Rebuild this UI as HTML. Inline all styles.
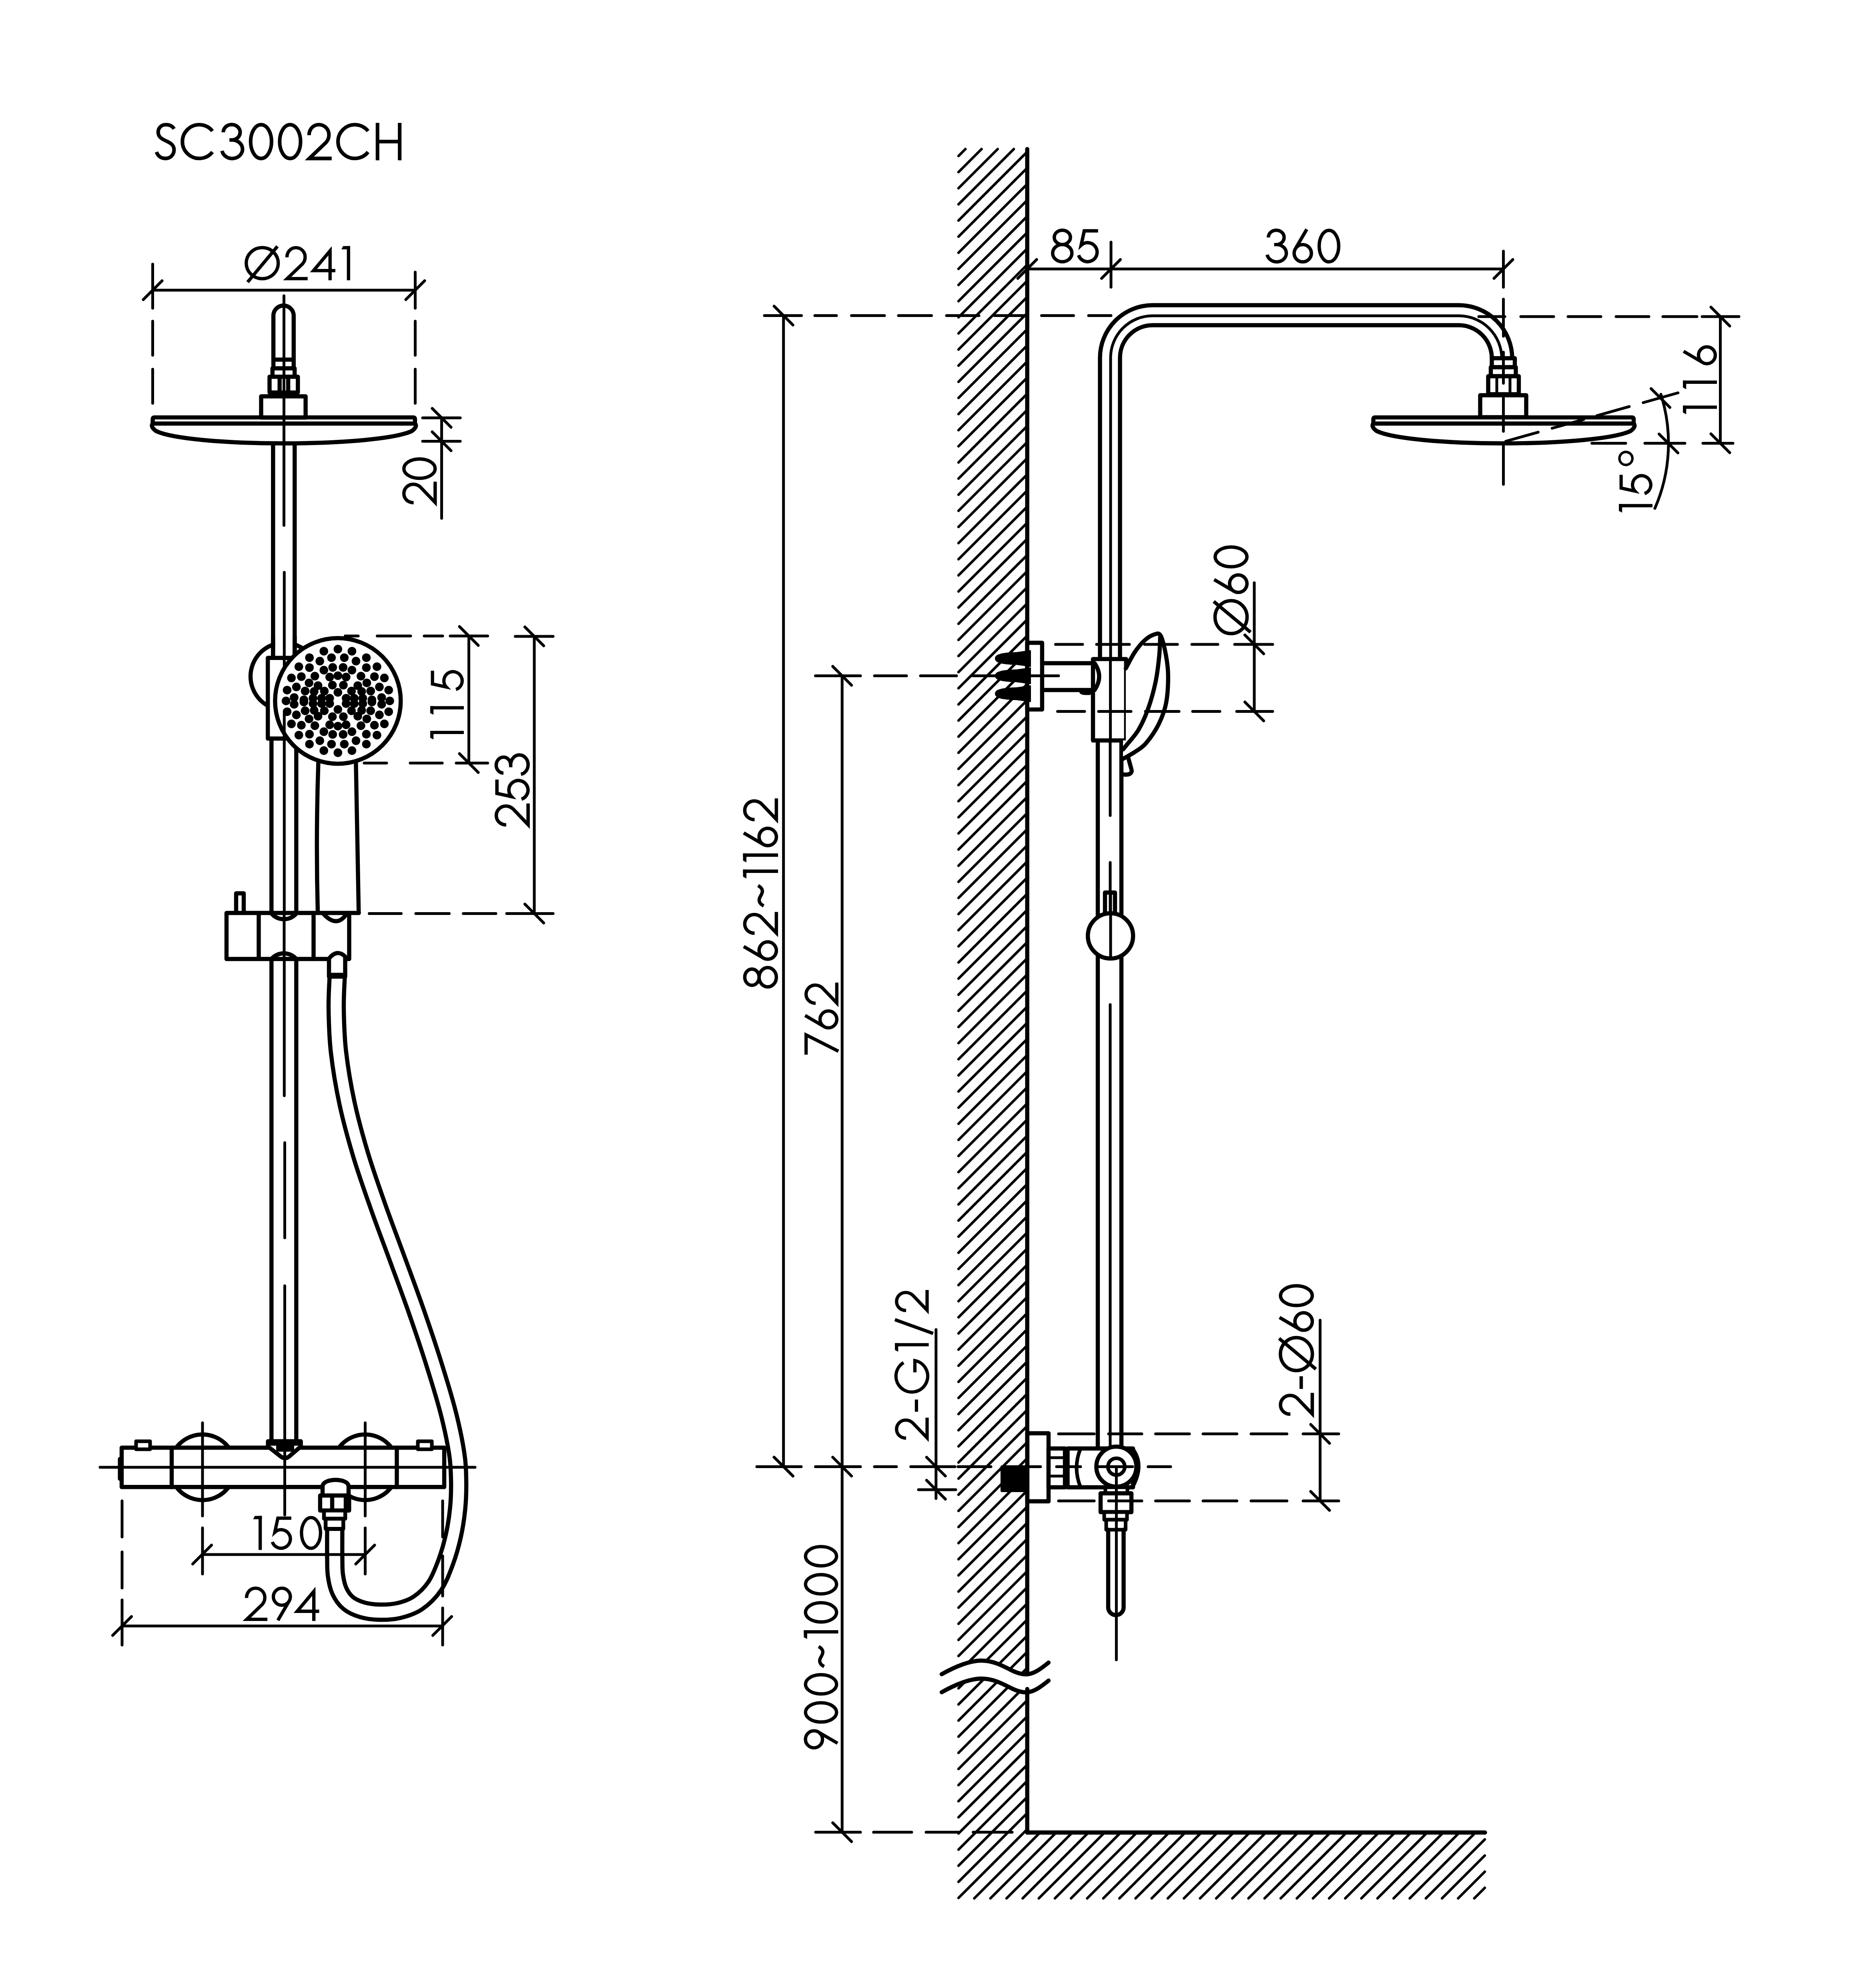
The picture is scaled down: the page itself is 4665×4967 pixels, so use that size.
<!DOCTYPE html>
<html><head><meta charset="utf-8"><style>
html,body{margin:0;padding:0;background:#fff;}
svg{display:block;}
.t path{fill:none;stroke:#000;stroke-linecap:butt;stroke-linejoin:miter;}
</style></head><body>
<svg width="4665" height="4967" viewBox="0 0 4665 4967" stroke="#000" fill="none" stroke-linecap="round" stroke-linejoin="round">
<rect x="0" y="0" width="4665" height="4967" fill="#fff" stroke="none"/>
<path d="M2395.0,389.7 L2412.2,372.5 M2395.0,430.0 L2452.5,372.5 M2395.0,470.3 L2492.8,372.5 M2395.0,510.6 L2533.1,372.5 M2395.0,550.9 L2566.0,379.9 M2395.0,591.2 L2566.0,420.2 M2395.0,631.5 L2566.0,460.5 M2395.0,671.8 L2566.0,500.8 M2395.0,712.1 L2566.0,541.1 M2395.0,752.4 L2566.0,581.4 M2395.0,792.7 L2566.0,621.7 M2395.0,833.0 L2566.0,662.0 M2395.0,873.3 L2566.0,702.3 M2395.0,913.6 L2566.0,742.6 M2395.0,953.9 L2566.0,782.9 M2395.0,994.2 L2566.0,823.2 M2395.0,1034.5 L2566.0,863.5 M2395.0,1074.8 L2566.0,903.8 M2395.0,1115.1 L2566.0,944.1 M2395.0,1155.4 L2566.0,984.4 M2395.0,1195.7 L2566.0,1024.7 M2395.0,1236.0 L2566.0,1065.0 M2395.0,1276.3 L2566.0,1105.3 M2395.0,1316.6 L2566.0,1145.6 M2395.0,1356.9 L2566.0,1185.9 M2395.0,1397.2 L2566.0,1226.2 M2395.0,1437.5 L2566.0,1266.5 M2395.0,1477.8 L2566.0,1306.8 M2395.0,1518.1 L2566.0,1347.1 M2395.0,1558.4 L2566.0,1387.4 M2395.0,1598.7 L2566.0,1427.7 M2395.0,1639.0 L2566.0,1468.0 M2395.0,1679.3 L2566.0,1508.3 M2395.0,1719.6 L2566.0,1548.6 M2395.0,1759.9 L2566.0,1588.9 M2395.0,1800.2 L2566.0,1629.2 M2395.0,1840.5 L2566.0,1669.5 M2395.0,1880.8 L2566.0,1709.8 M2395.0,1921.1 L2566.0,1750.1 M2395.0,1961.4 L2566.0,1790.4 M2395.0,2001.7 L2566.0,1830.7 M2395.0,2042.0 L2566.0,1871.0 M2395.0,2082.3 L2566.0,1911.3 M2395.0,2122.6 L2566.0,1951.6 M2395.0,2162.9 L2566.0,1991.9 M2395.0,2203.2 L2566.0,2032.2 M2395.0,2243.5 L2566.0,2072.5 M2395.0,2283.8 L2566.0,2112.8 M2395.0,2324.1 L2566.0,2153.1 M2395.0,2364.4 L2566.0,2193.4 M2395.0,2404.7 L2566.0,2233.7 M2395.0,2445.0 L2566.0,2274.0 M2395.0,2485.3 L2566.0,2314.3 M2395.0,2525.6 L2566.0,2354.6 M2395.0,2565.9 L2566.0,2394.9 M2395.0,2606.2 L2566.0,2435.2 M2395.0,2646.5 L2566.0,2475.5 M2395.0,2686.8 L2566.0,2515.8 M2395.0,2727.1 L2566.0,2556.1 M2395.0,2767.4 L2566.0,2596.4 M2395.0,2807.7 L2566.0,2636.7 M2395.0,2848.0 L2566.0,2677.0 M2395.0,2888.3 L2566.0,2717.3 M2395.0,2928.6 L2566.0,2757.6 M2395.0,2968.9 L2566.0,2797.9 M2395.0,3009.2 L2566.0,2838.2 M2395.0,3049.5 L2566.0,2878.5 M2395.0,3089.8 L2566.0,2918.8 M2395.0,3130.1 L2566.0,2959.1 M2395.0,3170.4 L2566.0,2999.4 M2395.0,3210.7 L2566.0,3039.7 M2395.0,3251.0 L2566.0,3080.0 M2395.0,3291.3 L2566.0,3120.3 M2395.0,3331.6 L2566.0,3160.6 M2395.0,3371.9 L2566.0,3200.9 M2395.0,3412.2 L2566.0,3241.2 M2395.0,3452.5 L2566.0,3281.5 M2395.0,3492.8 L2566.0,3321.8 M2395.0,3533.1 L2566.0,3362.1 M2395.0,3573.4 L2566.0,3402.4 M2395.0,3613.7 L2566.0,3442.7 M2395.0,3654.0 L2566.0,3483.0 M2395.0,3694.3 L2566.0,3523.3 M2395.0,3734.6 L2566.0,3563.6 M2395.0,3774.9 L2566.0,3603.9 M2395.0,3815.2 L2566.0,3644.2 M2395.0,3855.5 L2566.0,3684.5 M2395.0,3895.8 L2566.0,3724.8 M2395.0,3936.1 L2566.0,3765.1 M2395.0,3976.4 L2566.0,3805.4 M2395.0,4016.7 L2566.0,3845.7 M2395.0,4057.0 L2566.0,3886.0 M2395.0,4097.3 L2566.0,3926.3 M2395.0,4137.6 L2566.0,3966.6 M2395.0,4177.9 L2566.0,4006.9 M2395.0,4218.2 L2566.0,4047.2 M2395.0,4258.5 L2566.0,4087.5 M2395.0,4298.8 L2566.0,4127.8 M2395.0,4339.1 L2566.0,4168.1 M2395.0,4379.4 L2566.0,4208.4 M2395.0,4419.7 L2566.0,4248.7 M2395.0,4460.0 L2566.0,4289.0 M2395.0,4500.3 L2566.0,4329.3 M2395.0,4540.6 L2566.0,4369.6 M2395.0,4580.9 L2566.0,4409.9 M2395.0,4621.2 L2566.0,4450.2 M2395.0,4661.5 L2566.0,4490.5 M2395.0,4701.8 L2566.0,4530.8 M2395.0,4742.1 L2566.0,4571.1 M2434.4,4743.0 L2598.9,4578.5 M2474.7,4743.0 L2639.2,4578.5 M2515.0,4743.0 L2679.5,4578.5 M2555.3,4743.0 L2719.8,4578.5 M2595.6,4743.0 L2760.1,4578.5 M2635.9,4743.0 L2800.4,4578.5 M2676.2,4743.0 L2840.7,4578.5 M2716.5,4743.0 L2881.0,4578.5 M2756.8,4743.0 L2921.3,4578.5 M2797.1,4743.0 L2961.6,4578.5 M2837.4,4743.0 L3001.9,4578.5 M2877.7,4743.0 L3042.2,4578.5 M2918.0,4743.0 L3082.5,4578.5 M2958.3,4743.0 L3122.8,4578.5 M2998.6,4743.0 L3163.1,4578.5 M3038.9,4743.0 L3203.4,4578.5 M3079.2,4743.0 L3243.7,4578.5 M3119.5,4743.0 L3284.0,4578.5 M3159.8,4743.0 L3324.3,4578.5 M3200.1,4743.0 L3364.6,4578.5 M3240.4,4743.0 L3404.9,4578.5 M3280.7,4743.0 L3445.2,4578.5 M3321.0,4743.0 L3485.5,4578.5 M3361.3,4743.0 L3525.8,4578.5 M3401.6,4743.0 L3566.1,4578.5 M3441.9,4743.0 L3606.4,4578.5 M3482.2,4743.0 L3646.7,4578.5 M3522.5,4743.0 L3687.0,4578.5 M3562.8,4743.0 L3710.0,4595.8 M3603.1,4743.0 L3710.0,4636.1 M3643.4,4743.0 L3710.0,4676.4 M3683.7,4743.0 L3710.0,4716.7" stroke-width="6.4" fill="none" stroke-linecap="round"/>
<path d="M2353,4183 C2385,4165 2420,4150 2450,4149 C2480,4148 2505,4162 2527,4173 C2545,4182 2558,4184 2568,4183 C2585,4181 2600,4170 2620,4154 L2620,4199 C2600,4215 2585,4226 2568,4228 C2558,4229 2545,4227 2527,4218 C2505,4207 2480,4193 2450,4194 C2420,4195 2385,4210 2353,4228 Z" fill="#fff" stroke="none"/>
<line x1="2566.7" y1="372.5" x2="2566.7" y2="4182.0" stroke-width="10.4" stroke-linecap="round"/>
<line x1="2566.7" y1="4220.0" x2="2566.7" y2="4578.5" stroke-width="10.4" stroke-linecap="round"/>
<line x1="2566.7" y1="4578.5" x2="3710.5" y2="4578.5" stroke-width="10.4" stroke-linecap="round"/>
<path d="M2353,4183 C2385,4165 2420,4150 2450,4149 C2480,4148 2505,4162 2527,4173 C2545,4182 2558,4184 2568,4183 C2585,4181 2600,4170 2620,4154" stroke-width="10.4" fill="none" stroke-linecap="round"/>
<path d="M2353,4228 C2385,4210 2420,4195 2450,4194 C2480,4193 2505,4207 2527,4218 C2545,4227 2558,4229 2568,4228 C2585,4226 2600,4215 2620,4199" stroke-width="10.4" fill="none" stroke-linecap="round"/>
<path d="M842.5,2440.0 C842.1,2453.3 839.5,2488.7 840.0,2520.0 C840.5,2551.3 841.2,2588.7 845.7,2628.0 C850.2,2667.3 857.8,2713.2 867.0,2756.0 C876.2,2798.8 888.2,2842.2 901.0,2885.0 C913.8,2927.8 929.0,2970.3 944.0,3013.0 C959.0,3055.7 975.3,3098.2 991.0,3141.0 C1006.7,3183.8 1023.0,3227.2 1038.0,3270.0 C1053.0,3312.8 1067.5,3355.3 1081.0,3398.0 C1094.5,3440.7 1109.0,3487.3 1119.0,3526.0 C1129.0,3564.7 1136.5,3601.0 1141.0,3630.0 C1145.5,3659.0 1145.6,3676.8 1146.0,3700.0 C1146.4,3723.2 1145.7,3746.3 1143.5,3769.0 C1141.3,3791.7 1137.9,3813.8 1133.0,3836.0 C1128.1,3858.2 1121.8,3880.8 1114.0,3902.0 C1106.2,3923.2 1097.7,3945.8 1086.0,3963.0 C1074.3,3980.2 1059.0,3994.8 1044.0,4005.0 C1029.0,4015.2 1012.0,4020.2 996.0,4024.0 C980.0,4027.8 963.2,4028.3 948.0,4028.0 C932.8,4027.7 918.0,4025.8 905.0,4022.0 C892.0,4018.2 879.5,4012.8 870.0,4005.0 C860.5,3997.2 853.3,3986.7 848.0,3975.0 C842.7,3963.3 839.9,3949.2 838.0,3935.0 C836.1,3920.8 836.7,3908.3 836.4,3890.0 C836.1,3871.7 836.4,3835.8 836.4,3825.0" stroke-width="48.4" fill="none" />
<path d="M842.5,2440.0 C842.1,2453.3 839.5,2488.7 840.0,2520.0 C840.5,2551.3 841.2,2588.7 845.7,2628.0 C850.2,2667.3 857.8,2713.2 867.0,2756.0 C876.2,2798.8 888.2,2842.2 901.0,2885.0 C913.8,2927.8 929.0,2970.3 944.0,3013.0 C959.0,3055.7 975.3,3098.2 991.0,3141.0 C1006.7,3183.8 1023.0,3227.2 1038.0,3270.0 C1053.0,3312.8 1067.5,3355.3 1081.0,3398.0 C1094.5,3440.7 1109.0,3487.3 1119.0,3526.0 C1129.0,3564.7 1136.5,3601.0 1141.0,3630.0 C1145.5,3659.0 1145.6,3676.8 1146.0,3700.0 C1146.4,3723.2 1145.7,3746.3 1143.5,3769.0 C1141.3,3791.7 1137.9,3813.8 1133.0,3836.0 C1128.1,3858.2 1121.8,3880.8 1114.0,3902.0 C1106.2,3923.2 1097.7,3945.8 1086.0,3963.0 C1074.3,3980.2 1059.0,3994.8 1044.0,4005.0 C1029.0,4015.2 1012.0,4020.2 996.0,4024.0 C980.0,4027.8 963.2,4028.3 948.0,4028.0 C932.8,4027.7 918.0,4025.8 905.0,4022.0 C892.0,4018.2 879.5,4012.8 870.0,4005.0 C860.5,3997.2 853.3,3986.7 848.0,3975.0 C842.7,3963.3 839.9,3949.2 838.0,3935.0 C836.1,3920.8 836.7,3908.3 836.4,3890.0 C836.1,3871.7 836.4,3835.8 836.4,3825.0" stroke="#fff" stroke-width="27.6" fill="none" stroke-linecap="butt"/>
<line x1="682.3" y1="1105.0" x2="682.3" y2="1644.0" stroke-width="10.4" stroke-linecap="butt"/>
<line x1="736.3" y1="1105.0" x2="736.3" y2="1644.0" stroke-width="10.4" stroke-linecap="butt"/>
<line x1="678.3" y1="1845.0" x2="678.3" y2="2281.0" stroke-width="10.4" stroke-linecap="butt"/>
<line x1="740.3" y1="1845.0" x2="740.3" y2="2281.0" stroke-width="10.4" stroke-linecap="butt"/>
<line x1="678.3" y1="2396.0" x2="678.3" y2="3602.0" stroke-width="10.4" stroke-linecap="butt"/>
<line x1="740.3" y1="2396.0" x2="740.3" y2="3602.0" stroke-width="10.4" stroke-linecap="butt"/>
<path d="M683.1,917 V788.8 A25.35,25.35 0 0 1 733.8,788.8 V917" stroke-width="10.4" fill="none" />
<line x1="683.1" y1="898.5" x2="733.8" y2="898.5" stroke-width="10.4" stroke-linecap="butt"/>
<rect x="680.8" y="920.3" width="55.4" height="20.9" stroke-width="10.4" fill="#fff"/>
<rect x="673.5" y="941.2" width="70.8" height="39.4" stroke-width="10.4" fill="#fff"/>
<line x1="698.7" y1="941.2" x2="698.7" y2="980.6" stroke-width="10.4" stroke-linecap="butt"/>
<line x1="720.1" y1="941.2" x2="720.1" y2="980.6" stroke-width="10.4" stroke-linecap="butt"/>
<rect x="652.5" y="990.3" width="111.1" height="53.1" stroke-width="10.4" fill="#fff"/>
<path d="M381.6,1058.2 V1047 Q381.6,1042.9 386,1042.9 H1032.5 Q1036.9,1042.9 1036.9,1047 V1058.2" stroke-width="10.4" fill="none" />
<line x1="381.6" y1="1058.2" x2="1036.9" y2="1058.2" stroke-width="10.4" stroke-linecap="butt"/>
<path d="M381.6,1058.2 Q375,1066 390,1077 C430,1096 560,1107.7 709.5,1107.7 C859,1107.7 989,1096 1029,1077 Q1044,1066 1036.9,1058.2" stroke-width="10.4" fill="none" />
<line x1="709.5" y1="739.0" x2="709.5" y2="1312.5" stroke-width="7" stroke-linecap="round"/>
<circle cx="710" cy="1690" r="84" stroke-width="10.4" fill="none"/>
<rect x="687.5" y="1590" width="43.6" height="54" fill="#fff" stroke="none"/>
<line x1="682.3" y1="1590.0" x2="682.3" y2="1644.0" stroke-width="10.4" stroke-linecap="butt"/>
<line x1="736.3" y1="1590.0" x2="736.3" y2="1644.0" stroke-width="10.4" stroke-linecap="butt"/>
<rect x="669.2" y="1643.8" width="90" height="201.4" stroke-width="10.4" fill="#fff"/>
<path d="M795.4,1905 Q789,2092 794,2281" stroke-width="10.4" fill="none" />
<path d="M889.3,1905 Q893,2092 896.3,2281" stroke-width="10.4" fill="none" />
<line x1="710.3" y1="1430.0" x2="710.3" y2="1662.0" stroke-width="7" stroke-linecap="round"/>
<circle cx="844.3" cy="1751.2" r="157" stroke-width="10.4" fill="#fff"/>
<g fill="#000" stroke="none"><circle cx="773.2" cy="1859.2" r="10.8"/><circle cx="935.6" cy="1690.5" r="10.8"/><circle cx="894.0" cy="1789.4" r="10.8"/><circle cx="717.4" cy="1778.2" r="10.8"/><circle cx="794.6" cy="1713.0" r="10.8"/><circle cx="753.0" cy="1811.9" r="10.8"/><circle cx="915.4" cy="1668.0" r="10.8"/><circle cx="809.2" cy="1674.3" r="10.8"/><circle cx="810.3" cy="1775.9" r="10.8"/><circle cx="878.3" cy="1775.9" r="10.8"/><circle cx="828.3" cy="1859.2" r="10.8"/><circle cx="728.2" cy="1693.8" r="10.8"/><circle cx="858.0" cy="1790.6" r="10.8"/><circle cx="953.6" cy="1759.7" r="10.8"/><circle cx="906.4" cy="1757.9" r="10.8"/><circle cx="915.4" cy="1834.4" r="10.8"/><circle cx="823.8" cy="1691.6" r="10.8"/><circle cx="786.7" cy="1813.1" r="10.8"/><circle cx="901.9" cy="1689.3" r="10.8"/><circle cx="803.6" cy="1744.5" r="10.8"/><circle cx="773.2" cy="1668.0" r="10.8"/><circle cx="782.2" cy="1744.5" r="10.8"/><circle cx="879.4" cy="1627.0" r="10.8"/><circle cx="953.6" cy="1742.7" r="10.8"/><circle cx="941.9" cy="1836.7" r="10.8"/><circle cx="903.7" cy="1727.6" r="10.8"/><circle cx="916.5" cy="1796.2" r="10.8"/><circle cx="885.0" cy="1744.5" r="10.8"/><circle cx="830.6" cy="1711.8" r="10.8"/><circle cx="879.4" cy="1828.1" r="10.8"/><circle cx="823.8" cy="1757.9" r="10.8"/><circle cx="740.6" cy="1786.1" r="10.8"/><circle cx="810.3" cy="1726.5" r="10.8"/><circle cx="809.2" cy="1828.1" r="10.8"/><circle cx="971.2" cy="1724.2" r="10.8"/><circle cx="857.3" cy="1667.5" r="10.8"/><circle cx="960.4" cy="1693.8" r="10.8"/><circle cx="831.3" cy="1834.9" r="10.8"/><circle cx="915.4" cy="1643.2" r="10.8"/><circle cx="864.8" cy="1744.5" r="10.8"/><circle cx="935.6" cy="1811.9" r="10.8"/><circle cx="784.9" cy="1774.8" r="10.8"/><circle cx="746.7" cy="1836.7" r="10.8"/><circle cx="903.7" cy="1774.8" r="10.8"/><circle cx="717.4" cy="1724.2" r="10.8"/><circle cx="799.1" cy="1850.6" r="10.8"/><circle cx="864.8" cy="1810.8" r="10.8"/><circle cx="901.9" cy="1813.1" r="10.8"/><circle cx="772.1" cy="1796.2" r="10.8"/><circle cx="926.2" cy="1775.9" r="10.8"/><circle cx="929.3" cy="1748.5" r="10.8"/><circle cx="809.2" cy="1627.0" r="10.8"/><circle cx="794.6" cy="1789.4" r="10.8"/><circle cx="948.0" cy="1786.1" r="10.8"/><circle cx="860.3" cy="1859.2" r="10.8"/><circle cx="831.3" cy="1667.5" r="10.8"/><circle cx="878.3" cy="1726.5" r="10.8"/><circle cx="929.3" cy="1753.9" r="10.8"/><circle cx="759.3" cy="1748.5" r="10.8"/><circle cx="773.2" cy="1834.4" r="10.8"/><circle cx="844.3" cy="1880.6" r="10.8"/><circle cx="740.6" cy="1716.3" r="10.8"/><circle cx="799.1" cy="1651.8" r="10.8"/><circle cx="894.0" cy="1713.0" r="10.8"/><circle cx="879.4" cy="1875.4" r="10.8"/><circle cx="759.3" cy="1753.9" r="10.8"/><circle cx="916.5" cy="1706.2" r="10.8"/><circle cx="823.8" cy="1744.5" r="10.8"/><circle cx="857.3" cy="1834.9" r="10.8"/><circle cx="889.5" cy="1651.8" r="10.8"/><circle cx="830.6" cy="1790.6" r="10.8"/><circle cx="844.3" cy="1729.8" r="10.8"/><circle cx="926.2" cy="1726.5" r="10.8"/><circle cx="941.9" cy="1665.7" r="10.8"/><circle cx="762.4" cy="1775.9" r="10.8"/><circle cx="864.8" cy="1691.6" r="10.8"/><circle cx="753.0" cy="1690.5" r="10.8"/><circle cx="844.3" cy="1772.6" r="10.8"/><circle cx="773.2" cy="1643.2" r="10.8"/><circle cx="858.0" cy="1711.8" r="10.8"/><circle cx="864.8" cy="1757.9" r="10.8"/><circle cx="844.3" cy="1814.2" r="10.8"/><circle cx="906.4" cy="1744.5" r="10.8"/><circle cx="889.5" cy="1850.6" r="10.8"/><circle cx="728.2" cy="1808.6" r="10.8"/><circle cx="973.9" cy="1751.2" r="10.8"/><circle cx="879.4" cy="1674.3" r="10.8"/><circle cx="844.3" cy="1621.8" r="10.8"/><circle cx="828.3" cy="1643.2" r="10.8"/><circle cx="762.4" cy="1726.5" r="10.8"/><circle cx="714.7" cy="1751.2" r="10.8"/><circle cx="948.0" cy="1716.3" r="10.8"/><circle cx="803.6" cy="1757.9" r="10.8"/><circle cx="772.1" cy="1706.2" r="10.8"/><circle cx="844.3" cy="1688.2" r="10.8"/><circle cx="782.2" cy="1757.9" r="10.8"/><circle cx="971.2" cy="1778.2" r="10.8"/><circle cx="746.7" cy="1665.7" r="10.8"/><circle cx="809.2" cy="1875.4" r="10.8"/><circle cx="735.0" cy="1759.7" r="10.8"/><circle cx="885.0" cy="1757.9" r="10.8"/><circle cx="786.7" cy="1689.3" r="10.8"/><circle cx="915.4" cy="1859.2" r="10.8"/><circle cx="735.0" cy="1742.7" r="10.8"/><circle cx="784.9" cy="1727.6" r="10.8"/><circle cx="823.8" cy="1810.8" r="10.8"/><circle cx="960.4" cy="1808.6" r="10.8"/><circle cx="860.3" cy="1643.2" r="10.8"/></g>
<line x1="710.3" y1="1782.0" x2="710.3" y2="2737.5" stroke-width="7" stroke-linecap="round"/>
<rect x="566" y="2281" width="306.5" height="115" stroke-width="10.4" fill="#fff"/>
<line x1="872.5" y1="2281.0" x2="896.5" y2="2281.0" stroke-width="10.4" stroke-linecap="round"/>
<line x1="646.5" y1="2281.0" x2="646.5" y2="2396.0" stroke-width="10.4" stroke-linecap="round"/>
<line x1="783.5" y1="2281.0" x2="783.5" y2="2396.0" stroke-width="10.4" stroke-linecap="round"/>
<path d="M590,2281 V2232 H609 V2281" stroke-width="10.4" fill="none" />
<path d="M678.3,2282.5 A41.3,41.3 0 0 0 740.3,2282.5" stroke-width="10.4" fill="none" />
<path d="M678.3,2396 A41.3,41.3 0 0 1 740.3,2396" stroke-width="10.4" fill="none" />
<path d="M806,2281 Q842,2322 867.5,2281" stroke-width="10.4" fill="none" />
<line x1="710.0" y1="2281.0" x2="710.0" y2="2396.0" stroke-width="7" stroke-linecap="round"/>
<path d="M822,2440 V2395 Q842,2370 862.5,2390 V2440 Z" stroke-width="10.4" fill="#fff" />
<line x1="822.0" y1="2434.0" x2="862.5" y2="2434.0" stroke-width="7" stroke-linecap="round"/>
<circle cx="506" cy="3666" r="82" stroke-width="10.4" fill="none"/>
<circle cx="912.5" cy="3666" r="82" stroke-width="10.4" fill="none"/>
<rect x="304" y="3617" width="806" height="98.2" stroke-width="10.4" fill="#fff"/>
<line x1="429.0" y1="3617.0" x2="429.0" y2="3715.2" stroke-width="10.4" stroke-linecap="round"/>
<line x1="991.5" y1="3617.0" x2="991.5" y2="3715.2" stroke-width="10.4" stroke-linecap="round"/>
<rect x="340" y="3601" width="35" height="20" stroke-width="9" fill="#fff"/>
<rect x="1044" y="3601" width="35" height="20" stroke-width="9" fill="#fff"/>
<path d="M304,3645 H299 V3695 H304" stroke-width="9" fill="none" />
<path d="M669.6,3614 V3601 H751.6 V3614 L722.5,3639 Q712,3647 701.5,3639 Z" stroke-width="10.4" fill="#fff" />
<rect x="690" y="3606" width="45" height="21" rx="6" fill="#000" stroke="none"/>
<line x1="676.0" y1="3609.0" x2="745.0" y2="3609.0" stroke-width="6" stroke-linecap="round"/>
<line x1="711.5" y1="3212.5" x2="711.5" y2="3785.0" stroke-width="7" stroke-linecap="round"/>
<line x1="711.5" y1="2855.0" x2="711.5" y2="3092.5" stroke-width="7" stroke-linecap="round"/>
<path d="M806,3734 V3714 C806,3692 871,3692 871,3714 V3734" stroke-width="10.4" fill="#fff" />
<rect x="799.9" y="3736.5" width="72.4" height="37.5" stroke-width="10.4" fill="#fff"/>
<line x1="830.0" y1="3736.5" x2="830.0" y2="3774.0" stroke-width="10.4" stroke-linecap="round"/>
<line x1="864.0" y1="3736.5" x2="864.0" y2="3774.0" stroke-width="10.4" stroke-linecap="round"/>
<rect x="809.5" y="3774" width="53.2" height="20.4" stroke-width="9.5" fill="#fff"/>
<rect x="813.6" y="3794.4" width="44.2" height="25.4" stroke-width="9.5" fill="#fff"/>
<line x1="506.0" y1="3555.0" x2="506.0" y2="3787.5" stroke-width="7" stroke-linecap="round"/>
<line x1="506.0" y1="3817.5" x2="506.0" y2="3932.5" stroke-width="7" stroke-linecap="round"/>
<line x1="912.5" y1="3555.0" x2="912.5" y2="3787.5" stroke-width="7" stroke-linecap="round"/>
<line x1="912.5" y1="3817.5" x2="912.5" y2="3932.5" stroke-width="7" stroke-linecap="round"/>
<line x1="250.0" y1="3666.0" x2="1187.0" y2="3666.0" stroke-width="7" stroke-linecap="round"/>
<line x1="381.5" y1="725.0" x2="1037.5" y2="725.0" stroke-width="7" stroke-linecap="round"/>
<line x1="381.5" y1="660.0" x2="381.5" y2="770.0" stroke-width="7" stroke-linecap="round"/>
<line x1="381.5" y1="802.5" x2="381.5" y2="887.5" stroke-width="7" stroke-linecap="round"/>
<line x1="381.5" y1="922.5" x2="381.5" y2="1007.5" stroke-width="7" stroke-linecap="round"/>
<line x1="1037.5" y1="680.0" x2="1037.5" y2="770.0" stroke-width="7" stroke-linecap="round"/>
<line x1="1037.5" y1="802.5" x2="1037.5" y2="887.5" stroke-width="7" stroke-linecap="round"/>
<line x1="1037.5" y1="922.5" x2="1037.5" y2="1007.5" stroke-width="7" stroke-linecap="round"/>
<line x1="358.0" y1="748.5" x2="405.0" y2="701.5" stroke-width="7" stroke-linecap="round"/>
<line x1="1014.0" y1="748.5" x2="1061.0" y2="701.5" stroke-width="7" stroke-linecap="round"/>
<g class="t" transform="translate(611.00,700.20) scale(0.8540)" stroke-width="9.70"><path transform="translate(0.00,0)" d="M5.00,-50.00 A46.80,45.50 0 1 1 98.60,-50.00 A46.80,45.50 0 1 1 5.00,-50.00 Z M9,5.4 L96.3,-99.2"/><path transform="translate(118.28,0)" d="M5.8,-67 C5.8,-83.5 17.5,-95.15 32,-95.15 C47,-95.15 59,-83.5 59,-68 C59,-60 56.5,-53.5 51,-47.5 L6.5,-4.85 H66.4"/><path transform="translate(199.36,0)" d="M66.4,-28.2 H2.5 L50.9,-86 V0"/><path transform="translate(283.43,0)" d="M20.8,0 V-100"/><path transform="translate(283.43,0)" d="M5,-100 H25.65 V-90.3 H0 Z" style="fill:#000;stroke:none"/></g>
<line x1="1056.0" y1="1044.0" x2="1150.0" y2="1044.0" stroke-width="7" stroke-linecap="round"/>
<line x1="1056.0" y1="1102.5" x2="1150.0" y2="1102.5" stroke-width="7" stroke-linecap="round"/>
<line x1="1103.5" y1="1044.0" x2="1103.5" y2="1295.0" stroke-width="7" stroke-linecap="round"/>
<line x1="1080.0" y1="1020.5" x2="1127.0" y2="1067.5" stroke-width="7" stroke-linecap="round"/>
<line x1="1080.0" y1="1079.0" x2="1127.0" y2="1126.0" stroke-width="7" stroke-linecap="round"/>
<g class="t" transform="translate(1091.50,1261.00) rotate(-90) scale(0.8650)" stroke-width="9.70"><path transform="translate(0.00,0)" d="M5.8,-67 C5.8,-83.5 17.5,-95.15 32,-95.15 C47,-95.15 59,-83.5 59,-68 C59,-60 56.5,-53.5 51,-47.5 L6.5,-4.85 H66.4"/><path transform="translate(71.39,0)" d="M4.85,-50.00 A27.95,45.15 0 1 1 60.75,-50.00 A27.95,45.15 0 1 1 4.85,-50.00 Z"/></g>
<line x1="862.5" y1="1589.0" x2="895.0" y2="1589.0" stroke-width="7" stroke-linecap="round"/>
<line x1="942.5" y1="1589.0" x2="1026.0" y2="1589.0" stroke-width="7" stroke-linecap="round"/>
<line x1="1060.0" y1="1589.0" x2="1106.0" y2="1589.0" stroke-width="7" stroke-linecap="round"/>
<line x1="1125.0" y1="1589.0" x2="1218.5" y2="1589.0" stroke-width="7" stroke-linecap="round"/>
<line x1="910.0" y1="1906.5" x2="966.0" y2="1906.5" stroke-width="7" stroke-linecap="round"/>
<line x1="1025.0" y1="1906.5" x2="1105.0" y2="1906.5" stroke-width="7" stroke-linecap="round"/>
<line x1="1140.0" y1="1906.5" x2="1218.5" y2="1906.5" stroke-width="7" stroke-linecap="round"/>
<line x1="1171.5" y1="1589.0" x2="1171.5" y2="1906.5" stroke-width="7" stroke-linecap="round"/>
<line x1="1148.0" y1="1565.5" x2="1195.0" y2="1612.5" stroke-width="7" stroke-linecap="round"/>
<line x1="1148.0" y1="1883.0" x2="1195.0" y2="1930.0" stroke-width="7" stroke-linecap="round"/>
<g class="t" transform="translate(1159.00,1847.50) rotate(-90) scale(0.8400)" stroke-width="9.70"><path transform="translate(0.00,0)" d="M20.8,0 V-100"/><path transform="translate(0.00,0)" d="M5,-100 H25.65 V-90.3 H0 Z" style="fill:#000;stroke:none"/><path transform="translate(73.42,0)" d="M20.8,0 V-100"/><path transform="translate(73.42,0)" d="M5,-100 H25.65 V-90.3 H0 Z" style="fill:#000;stroke:none"/><path transform="translate(143.85,0)" d="M60.5,-93.3 H21 L12.05,-52.1 A27.2,27.2 0 1 1 4.79,-23.6"/></g>
<line x1="1287.5" y1="1590.0" x2="1382.0" y2="1590.0" stroke-width="7" stroke-linecap="round"/>
<line x1="922.5" y1="2282.5" x2="1002.5" y2="2282.5" stroke-width="7" stroke-linecap="round"/>
<line x1="1039.0" y1="2282.5" x2="1122.5" y2="2282.5" stroke-width="7" stroke-linecap="round"/>
<line x1="1157.5" y1="2282.5" x2="1239.0" y2="2282.5" stroke-width="7" stroke-linecap="round"/>
<line x1="1266.0" y1="2282.5" x2="1382.0" y2="2282.5" stroke-width="7" stroke-linecap="round"/>
<line x1="1335.0" y1="1590.0" x2="1335.0" y2="2282.5" stroke-width="7" stroke-linecap="round"/>
<line x1="1311.5" y1="1566.5" x2="1358.5" y2="1613.5" stroke-width="7" stroke-linecap="round"/>
<line x1="1311.5" y1="2259.0" x2="1358.5" y2="2306.0" stroke-width="7" stroke-linecap="round"/>
<g class="t" transform="translate(1323.80,2066.00) rotate(-90) scale(0.8800)" stroke-width="9.70"><path transform="translate(0.00,0)" d="M5.8,-67 C5.8,-83.5 17.5,-95.15 32,-95.15 C47,-95.15 59,-83.5 59,-68 C59,-60 56.5,-53.5 51,-47.5 L6.5,-4.85 H66.4"/><path transform="translate(74.00,0)" d="M60.5,-93.3 H21 L12.05,-52.1 A27.2,27.2 0 1 1 4.79,-23.6"/><path transform="translate(144.29,0)" d="M8.6,-74.8 A22.5,20.6 0 1 1 31.1,-54.2 H25 M31.1,-54.2 A27.6,24.7 0 1 1 5.2,-25.2"/></g>
<line x1="505.0" y1="3884.0" x2="912.5" y2="3884.0" stroke-width="7" stroke-linecap="round"/>
<line x1="481.5" y1="3907.5" x2="528.5" y2="3860.5" stroke-width="7" stroke-linecap="round"/>
<line x1="889.0" y1="3907.5" x2="936.0" y2="3860.5" stroke-width="7" stroke-linecap="round"/>
<g class="t" transform="translate(632.50,3872.50) scale(0.8500)" stroke-width="9.70"><path transform="translate(0.00,0)" d="M20.8,0 V-100"/><path transform="translate(0.00,0)" d="M5,-100 H25.65 V-90.3 H0 Z" style="fill:#000;stroke:none"/><path transform="translate(51.67,0)" d="M60.5,-93.3 H21 L12.05,-52.1 A27.2,27.2 0 1 1 4.79,-23.6"/><path transform="translate(137.34,0)" d="M4.85,-50.00 A27.95,45.15 0 1 1 60.75,-50.00 A27.95,45.15 0 1 1 4.85,-50.00 Z"/></g>
<line x1="305.0" y1="4062.5" x2="1105.0" y2="4062.5" stroke-width="7" stroke-linecap="round"/>
<line x1="305.0" y1="3750.0" x2="305.0" y2="3840.0" stroke-width="7" stroke-linecap="round"/>
<line x1="305.0" y1="3877.5" x2="305.0" y2="3967.5" stroke-width="7" stroke-linecap="round"/>
<line x1="305.0" y1="3997.5" x2="305.0" y2="4110.0" stroke-width="7" stroke-linecap="round"/>
<line x1="1106.0" y1="3750.0" x2="1106.0" y2="3840.0" stroke-width="7" stroke-linecap="round"/>
<line x1="1106.0" y1="3887.5" x2="1106.0" y2="3987.5" stroke-width="7" stroke-linecap="round"/>
<line x1="1106.0" y1="4017.5" x2="1106.0" y2="4110.0" stroke-width="7" stroke-linecap="round"/>
<line x1="281.5" y1="4086.0" x2="328.5" y2="4039.0" stroke-width="7" stroke-linecap="round"/>
<line x1="1081.5" y1="4086.0" x2="1128.5" y2="4039.0" stroke-width="7" stroke-linecap="round"/>
<g class="t" transform="translate(611.00,4050.00) scale(0.8600)" stroke-width="9.70"><path transform="translate(0.00,0)" d="M5.8,-67 C5.8,-83.5 17.5,-95.15 32,-95.15 C47,-95.15 59,-83.5 59,-68 C59,-60 56.5,-53.5 51,-47.5 L6.5,-4.85 H66.4"/><path transform="translate(78.93,0)" d="M18,-2 L50.6,-57.7 M4.80,-70.50 A24.70,24.70 0 1 1 54.20,-70.50 A24.70,24.70 0 1 1 4.80,-70.50 Z"/><path transform="translate(150.46,0)" d="M66.4,-28.2 H2.5 L50.9,-86 V0"/></g>
<g class="t" transform="translate(387.70,400.40) scale(0.9340)" stroke-width="9.70"><path transform="translate(0.00,0)" d="M50.5,-84 C46,-92 38,-95.2 28.5,-95.2 C16,-95.2 8,-86 8,-75 C8,-61 20,-56 31,-51 C45,-45 50.5,-38 50.5,-28 C50.5,-14 40,-4.85 27.5,-4.85 C15,-4.85 7,-12 3.5,-22"/><path transform="translate(68.06,0)" d="M85.2,-78.1 A45.1,45.1 0 1 0 85.2,-21.9"/><path transform="translate(173.71,0)" d="M8.6,-74.8 A22.5,20.6 0 1 1 31.1,-54.2 H25 M31.1,-54.2 A27.6,24.7 0 1 1 5.2,-25.2"/><path transform="translate(250.57,0)" d="M4.85,-50.00 A27.95,45.15 0 1 1 60.75,-50.00 A27.95,45.15 0 1 1 4.85,-50.00 Z"/><path transform="translate(328.22,0)" d="M4.85,-50.00 A27.95,45.15 0 1 1 60.75,-50.00 A27.95,45.15 0 1 1 4.85,-50.00 Z"/><path transform="translate(405.88,0)" d="M5.8,-67 C5.8,-83.5 17.5,-95.15 32,-95.15 C47,-95.15 59,-83.5 59,-68 C59,-60 56.5,-53.5 51,-47.5 L6.5,-4.85 H66.4"/><path transform="translate(484.34,0)" d="M85.2,-78.1 A45.1,45.1 0 1 0 85.2,-21.9"/><path transform="translate(589.99,0)" d="M4.85,0 V-100 M64.15,0 V-100 M4.85,-50 H64.15"/></g>
<path d="M2748.5,1644 V894 A131.5,131.5 0 0 1 2880,762.5 H3645 A133.5,133.5 0 0 1 3778.5,896" stroke-width="10.4" fill="none" />
<path d="M2775,1644 V894 A105,105 0 0 1 2880,789 H3645 A107.5,107.5 0 0 1 3752.5,896.5" stroke-width="7" fill="none" />
<path d="M2798.5,1644 V894 A81.5,81.5 0 0 1 2880,812.5 H3645 A82.5,82.5 0 0 1 3727.5,895" stroke-width="10.4" fill="none" />
<rect x="3727.5" y="895" width="57.5" height="22.5" stroke-width="10.4" fill="#fff"/>
<rect x="3725" y="917.5" width="62.5" height="22.5" stroke-width="10.4" fill="#fff"/>
<rect x="3718.5" y="940" width="76.5" height="45" stroke-width="10.4" fill="#fff"/>
<line x1="3740.0" y1="940.0" x2="3740.0" y2="985.0" stroke-width="7" stroke-linecap="round"/>
<line x1="3773.0" y1="940.0" x2="3773.0" y2="985.0" stroke-width="7" stroke-linecap="round"/>
<rect x="3698.5" y="987.5" width="115" height="55" stroke-width="10.4" fill="#fff"/>
<path d="M3431.5,1058.2 V1047 Q3431.5,1042.9 3436,1042.9 H4077.5 Q4082,1042.9 4082,1047 V1058.2" stroke-width="10.4" fill="none" />
<line x1="3431.5" y1="1058.2" x2="4082.0" y2="1058.2" stroke-width="10.4" stroke-linecap="butt"/>
<path d="M3431.5,1058.2 Q3425,1066 3440,1077 C3480,1096 3610,1107.7 3756.7,1107.7 C3903,1107.7 4034,1096 4074,1077 Q4089,1066 4082,1058.2" stroke-width="10.4" fill="none" />
<line x1="2743.0" y1="1850.0" x2="2743.0" y2="3619.0" stroke-width="10.4" stroke-linecap="butt"/>
<line x1="2802.0" y1="1850.0" x2="2802.0" y2="3619.0" stroke-width="10.4" stroke-linecap="butt"/>
<line x1="2774.0" y1="1852.0" x2="2774.0" y2="2037.5" stroke-width="7" stroke-linecap="round"/>
<line x1="2774.0" y1="2155.0" x2="2774.0" y2="2390.0" stroke-width="7" stroke-linecap="round"/>
<line x1="2774.0" y1="2510.0" x2="2774.0" y2="3664.0" stroke-width="7" stroke-linecap="round"/>
<rect x="2566.7" y="1606" width="37.2" height="166.6" stroke-width="10.4" fill="#fff"/>
<path d="M2603.9,1657 H2727 M2603.9,1724 H2727" stroke-width="10.4" fill="none" />
<path d="M2700,1724 Q2700,1732 2712,1732 H2722" stroke-width="9" fill="none" />
<rect x="2731" y="1646.6" width="82.8" height="203.4" stroke-width="10.4" fill="#fff"/>
<line x1="2774.5" y1="1646.6" x2="2774.5" y2="1850.0" stroke-width="7" stroke-linecap="round"/>
<path d="M2735,1657 Q2758,1690 2735,1724" stroke-width="10.4" fill="none" />
<path d="M2576,1624.3 L2540,1629.3 C2500,1630.3 2486,1635.3 2486,1645.3 C2486,1655.3 2500,1660.3 2540,1661.3 L2576,1666.3 Z" fill="#000" stroke="none"/>
<path d="M2576,1667.6 L2540,1672.6 C2500,1673.6 2486,1678.6 2486,1688.6 C2486,1698.6 2500,1703.6 2540,1704.6 L2576,1709.6 Z" fill="#000" stroke="none"/>
<path d="M2576,1712.2 L2540,1717.2 C2500,1718.2 2486,1723.2 2486,1733.2 C2486,1743.2 2500,1748.2 2540,1749.2 L2576,1754.2 Z" fill="#000" stroke="none"/>
<path d="M2813.0,1670.0 C2816.7,1663.3 2827.2,1641.7 2835.0,1630.0 C2842.8,1618.3 2851.7,1607.5 2860.0,1600.0 C2868.3,1592.5 2877.9,1586.8 2884.7,1585.0 C2891.4,1583.2 2895.7,1580.0 2900.5,1589.0 C2905.3,1598.0 2910.5,1621.7 2913.6,1638.7 C2916.7,1655.7 2918.8,1671.5 2918.8,1691.2 C2918.8,1710.9 2917.5,1737.2 2913.6,1756.9 C2909.7,1776.6 2903.5,1792.7 2895.2,1809.3 C2886.9,1825.9 2873.3,1845.2 2863.7,1856.6 C2854.1,1868.0 2847.1,1871.0 2837.5,1877.6 C2827.9,1884.2 2811.2,1892.9 2806.0,1896.0 L2806,1850 L2813,1850 Z" fill="#fff" stroke="none"/>
<path d="M2813.0,1670.0 C2816.7,1663.3 2827.2,1641.7 2835.0,1630.0 C2842.8,1618.3 2851.7,1607.5 2860.0,1600.0 C2868.3,1592.5 2877.9,1586.8 2884.7,1585.0 C2891.4,1583.2 2895.7,1580.0 2900.5,1589.0 C2905.3,1598.0 2910.5,1621.7 2913.6,1638.7 C2916.7,1655.7 2918.8,1671.5 2918.8,1691.2 C2918.8,1710.9 2917.5,1737.2 2913.6,1756.9 C2909.7,1776.6 2903.5,1792.7 2895.2,1809.3 C2886.9,1825.9 2873.3,1845.2 2863.7,1856.6 C2854.1,1868.0 2847.1,1871.0 2837.5,1877.6 C2827.9,1884.2 2811.2,1892.9 2806.0,1896.0" stroke-width="10.4" fill="none" />
<path d="M2899.0,1590.0 C2898.6,1598.1 2898.4,1619.7 2896.5,1638.7 C2894.6,1657.8 2891.9,1682.4 2887.3,1704.3 C2882.7,1726.2 2876.0,1750.3 2869.0,1770.0 C2862.0,1789.7 2853.6,1808.1 2845.3,1822.5 C2837.0,1836.9 2825.7,1848.3 2819.1,1856.6 C2812.5,1864.9 2808.2,1869.7 2806.0,1872.3" stroke-width="10.4" fill="none" />
<path d="M2819,1893 L2827,1922 C2830,1932 2822,1937 2806,1935" stroke-width="10.4" fill="none" />
<path d="M2761,2280 V2230 H2786 V2280" stroke-width="10.4" fill="none" />
<circle cx="2774.7" cy="2338.3" r="56.5" stroke-width="10.4" fill="#fff"/>
<line x1="2775.0" y1="2230.0" x2="2775.0" y2="2395.0" stroke-width="7" stroke-linecap="round"/>
<rect x="2567" y="3581" width="53" height="170" stroke-width="10.4" fill="#fff"/>
<rect x="2500" y="3661" width="68" height="67" rx="4" fill="#000" stroke="none"/>
<rect x="2620" y="3619" width="41" height="97" stroke-width="10.4" fill="#fff"/>
<line x1="2620.0" y1="3642.0" x2="2661.0" y2="3642.0" stroke-width="7" stroke-linecap="round"/>
<line x1="2620.0" y1="3688.0" x2="2661.0" y2="3688.0" stroke-width="7" stroke-linecap="round"/>
<rect x="2667.5" y="3619" width="163.5" height="97" stroke-width="10.4" fill="#fff"/>
<path d="M2700,3619 Q2680,3667 2700,3716" stroke-width="9" fill="none" />
<path d="M2831,3622 Q2858,3660 2831,3712" stroke-width="10.4" fill="none" />
<circle cx="2789.4" cy="3664.4" r="50" stroke-width="10.4" fill="#fff"/>
<circle cx="2789.4" cy="3664.4" r="21" stroke-width="9" fill="none"/>
<rect x="2762" y="3716" width="55" height="15" stroke-width="9" fill="#fff"/>
<rect x="2750" y="3731" width="77" height="47" stroke-width="10.4" fill="#fff"/>
<rect x="2759" y="3778" width="57" height="19" stroke-width="9" fill="#fff"/>
<rect x="2764" y="3797" width="48.5" height="25" stroke-width="9" fill="#fff"/>
<path d="M2769,3822 V4016 A19.25,19.25 0 0 0 2807.5,4016 V3822" stroke-width="10.4" fill="none" />
<line x1="2789.4" y1="3664.4" x2="2789.4" y2="4147.0" stroke-width="7" stroke-linecap="round"/>
<line x1="2566.7" y1="672.0" x2="3756.5" y2="672.0" stroke-width="7" stroke-linecap="round"/>
<line x1="2543.2" y1="695.5" x2="2590.2" y2="648.5" stroke-width="7" stroke-linecap="round"/>
<line x1="2752.5" y1="695.5" x2="2799.5" y2="648.5" stroke-width="7" stroke-linecap="round"/>
<line x1="3733.0" y1="695.5" x2="3780.0" y2="648.5" stroke-width="7" stroke-linecap="round"/>
<line x1="2776.0" y1="605.0" x2="2776.0" y2="717.5" stroke-width="7" stroke-linecap="round"/>
<line x1="3756.5" y1="627.5" x2="3756.5" y2="717.5" stroke-width="7" stroke-linecap="round"/>
<line x1="3756.5" y1="747.5" x2="3756.5" y2="840.0" stroke-width="7" stroke-linecap="round"/>
<line x1="3756.5" y1="880.0" x2="3756.5" y2="957.5" stroke-width="7" stroke-linecap="round"/>
<line x1="3756.5" y1="995.0" x2="3756.5" y2="1077.5" stroke-width="7" stroke-linecap="round"/>
<line x1="3756.5" y1="1115.0" x2="3756.5" y2="1210.0" stroke-width="7" stroke-linecap="round"/>
<g class="t" transform="translate(2626.00,658.20) scale(0.8730)" stroke-width="9.70"><path transform="translate(0.00,0)" d="M9.45,-74.60 A23.15,20.50 0 1 1 55.75,-74.60 A23.15,20.50 0 1 1 9.45,-74.60 Z M4.85,-29.50 A27.55,24.60 0 1 1 59.95,-29.50 A27.55,24.60 0 1 1 4.85,-29.50 Z"/><path transform="translate(74.30,0)" d="M60.5,-93.3 H21 L12.05,-52.1 A27.2,27.2 0 1 1 4.79,-23.6"/></g>
<g class="t" transform="translate(3161.80,658.40) scale(0.8720)" stroke-width="9.70"><path transform="translate(0.00,0)" d="M8.6,-74.8 A22.5,20.6 0 1 1 31.1,-54.2 H25 M31.1,-54.2 A27.6,24.7 0 1 1 5.2,-25.2"/><path transform="translate(77.55,0)" d="M41,-98 L8.4,-42.3 M4.80,-29.50 A24.70,24.70 0 1 1 54.20,-29.50 A24.70,24.70 0 1 1 4.80,-29.50 Z"/><path transform="translate(149.31,0)" d="M4.85,-50.00 A27.95,45.15 0 1 1 60.75,-50.00 A27.95,45.15 0 1 1 4.85,-50.00 Z"/></g>
<line x1="1910.0" y1="788.5" x2="2002.5" y2="788.5" stroke-width="7" stroke-linecap="round"/>
<line x1="2036.0" y1="788.5" x2="2090.0" y2="788.5" stroke-width="7" stroke-linecap="round"/>
<line x1="2127.5" y1="788.5" x2="2210.0" y2="788.5" stroke-width="7" stroke-linecap="round"/>
<line x1="2245.0" y1="788.5" x2="2327.5" y2="788.5" stroke-width="7" stroke-linecap="round"/>
<line x1="2365.0" y1="788.5" x2="2446.0" y2="788.5" stroke-width="7" stroke-linecap="round"/>
<line x1="2485.0" y1="788.5" x2="2562.5" y2="788.5" stroke-width="7" stroke-linecap="round"/>
<line x1="2602.5" y1="788.5" x2="2682.5" y2="788.5" stroke-width="7" stroke-linecap="round"/>
<line x1="2720.0" y1="788.5" x2="2776.0" y2="788.5" stroke-width="7" stroke-linecap="round"/>
<line x1="1957.7" y1="788.5" x2="1957.7" y2="3664.4" stroke-width="7" stroke-linecap="round"/>
<line x1="1934.2" y1="765.0" x2="1981.2" y2="812.0" stroke-width="7" stroke-linecap="round"/>
<line x1="1934.2" y1="3640.9" x2="1981.2" y2="3687.9" stroke-width="7" stroke-linecap="round"/>
<g class="t" transform="translate(1944.10,2470.00) rotate(-90) scale(0.8750)" stroke-width="9.70"><path transform="translate(0.00,0)" d="M9.45,-74.60 A23.15,20.50 0 1 1 55.75,-74.60 A23.15,20.50 0 1 1 9.45,-74.60 Z M4.85,-29.50 A27.55,24.60 0 1 1 59.95,-29.50 A27.55,24.60 0 1 1 4.85,-29.50 Z"/><path transform="translate(79.11,0)" d="M41,-98 L8.4,-42.3 M4.80,-29.50 A24.70,24.70 0 1 1 54.20,-29.50 A24.70,24.70 0 1 1 4.80,-29.50 Z"/><path transform="translate(152.43,0)" d="M5.8,-67 C5.8,-83.5 17.5,-95.15 32,-95.15 C47,-95.15 59,-83.5 59,-68 C59,-60 56.5,-53.5 51,-47.5 L6.5,-4.85 H66.4"/><path transform="translate(233.14,0)" d="M3,-41 C10,-55 20,-57 31,-50 C42,-43 52,-41 61,-57"/><path transform="translate(314.46,0)" d="M20.8,0 V-100"/><path transform="translate(314.46,0)" d="M5,-100 H25.65 V-90.3 H0 Z" style="fill:#000;stroke:none"/><path transform="translate(360.47,0)" d="M20.8,0 V-100"/><path transform="translate(360.47,0)" d="M5,-100 H25.65 V-90.3 H0 Z" style="fill:#000;stroke:none"/><path transform="translate(403.49,0)" d="M41,-98 L8.4,-42.3 M4.80,-29.50 A24.70,24.70 0 1 1 54.20,-29.50 A24.70,24.70 0 1 1 4.80,-29.50 Z"/><path transform="translate(476.80,0)" d="M5.8,-67 C5.8,-83.5 17.5,-95.15 32,-95.15 C47,-95.15 59,-83.5 59,-68 C59,-60 56.5,-53.5 51,-47.5 L6.5,-4.85 H66.4"/></g>
<line x1="2037.5" y1="1688.5" x2="2150.0" y2="1688.5" stroke-width="7" stroke-linecap="round"/>
<line x1="2185.0" y1="1688.5" x2="2265.0" y2="1688.5" stroke-width="7" stroke-linecap="round"/>
<line x1="2300.0" y1="1688.5" x2="2390.0" y2="1688.5" stroke-width="7" stroke-linecap="round"/>
<line x1="2430.0" y1="1688.5" x2="2510.0" y2="1688.5" stroke-width="7" stroke-linecap="round"/>
<line x1="2545.0" y1="1688.5" x2="2645.0" y2="1688.5" stroke-width="7" stroke-linecap="round"/>
<line x1="2104.2" y1="1688.5" x2="2104.2" y2="4577.7" stroke-width="7" stroke-linecap="round"/>
<line x1="2080.7" y1="1665.0" x2="2127.7" y2="1712.0" stroke-width="7" stroke-linecap="round"/>
<line x1="2080.7" y1="3640.9" x2="2127.7" y2="3687.9" stroke-width="7" stroke-linecap="round"/>
<line x1="2080.7" y1="4554.2" x2="2127.7" y2="4601.2" stroke-width="7" stroke-linecap="round"/>
<g class="t" transform="translate(2095.00,2635.00) rotate(-90) scale(0.8500)" stroke-width="9.70"><path transform="translate(0.00,0)" d="M0,-95.15 H58 L10,0"/><path transform="translate(74.08,0)" d="M41,-98 L8.4,-42.3 M4.80,-29.50 A24.70,24.70 0 1 1 54.20,-29.50 A24.70,24.70 0 1 1 4.80,-29.50 Z"/><path transform="translate(145.36,0)" d="M5.8,-67 C5.8,-83.5 17.5,-95.15 32,-95.15 C47,-95.15 59,-83.5 59,-68 C59,-60 56.5,-53.5 51,-47.5 L6.5,-4.85 H66.4"/></g>
<g class="t" transform="translate(2094.50,4371.00) rotate(-90) scale(0.8600)" stroke-width="9.70"><path transform="translate(0.00,0)" d="M18,-2 L50.6,-57.7 M4.80,-70.50 A24.70,24.70 0 1 1 54.20,-70.50 A24.70,24.70 0 1 1 4.80,-70.50 Z"/><path transform="translate(74.93,0)" d="M4.85,-50.00 A27.95,45.15 0 1 1 60.75,-50.00 A27.95,45.15 0 1 1 4.85,-50.00 Z"/><path transform="translate(156.45,0)" d="M4.85,-50.00 A27.95,45.15 0 1 1 60.75,-50.00 A27.95,45.15 0 1 1 4.85,-50.00 Z"/><path transform="translate(237.98,0)" d="M3,-41 C10,-55 20,-57 31,-50 C42,-43 52,-41 61,-57"/><path transform="translate(320.91,0)" d="M20.8,0 V-100"/><path transform="translate(320.91,0)" d="M5,-100 H25.65 V-90.3 H0 Z" style="fill:#000;stroke:none"/><path transform="translate(365.53,0)" d="M4.85,-50.00 A27.95,45.15 0 1 1 60.75,-50.00 A27.95,45.15 0 1 1 4.85,-50.00 Z"/><path transform="translate(447.06,0)" d="M4.85,-50.00 A27.95,45.15 0 1 1 60.75,-50.00 A27.95,45.15 0 1 1 4.85,-50.00 Z"/><path transform="translate(528.59,0)" d="M4.85,-50.00 A27.95,45.15 0 1 1 60.75,-50.00 A27.95,45.15 0 1 1 4.85,-50.00 Z"/></g>
<line x1="1891.0" y1="3664.4" x2="2002.0" y2="3664.4" stroke-width="7" stroke-linecap="round"/>
<line x1="2037.5" y1="3664.4" x2="2150.0" y2="3664.4" stroke-width="7" stroke-linecap="round"/>
<line x1="2185.0" y1="3664.4" x2="2240.0" y2="3664.4" stroke-width="7" stroke-linecap="round"/>
<line x1="2275.6" y1="3664.4" x2="2386.0" y2="3664.4" stroke-width="7" stroke-linecap="round"/>
<line x1="2393.7" y1="3664.4" x2="2476.0" y2="3664.4" stroke-width="7" stroke-linecap="round"/>
<line x1="2520.0" y1="3664.4" x2="2600.0" y2="3664.4" stroke-width="7" stroke-linecap="round"/>
<line x1="2640.0" y1="3664.4" x2="2700.0" y2="3664.4" stroke-width="7" stroke-linecap="round"/>
<line x1="2740.0" y1="3664.4" x2="2830.0" y2="3664.4" stroke-width="7" stroke-linecap="round"/>
<line x1="2868.8" y1="3664.4" x2="2925.0" y2="3664.4" stroke-width="7" stroke-linecap="round"/>
<line x1="2038.0" y1="4577.7" x2="2150.0" y2="4577.7" stroke-width="7" stroke-linecap="round"/>
<line x1="2182.7" y1="4577.7" x2="2278.0" y2="4577.7" stroke-width="7" stroke-linecap="round"/>
<line x1="2314.0" y1="4577.7" x2="2395.5" y2="4577.7" stroke-width="7" stroke-linecap="round"/>
<line x1="2431.7" y1="4577.7" x2="2529.0" y2="4577.7" stroke-width="7" stroke-linecap="round"/>
<line x1="1934.2" y1="3640.9" x2="1981.2" y2="3687.9" stroke-width="7" stroke-linecap="round"/>
<line x1="2338.8" y1="3322.0" x2="2338.8" y2="3744.0" stroke-width="7" stroke-linecap="round"/>
<line x1="2295.0" y1="3722.0" x2="2388.0" y2="3722.0" stroke-width="7" stroke-linecap="round"/>
<line x1="2315.2" y1="3640.9" x2="2362.2" y2="3687.9" stroke-width="7" stroke-linecap="round"/>
<line x1="2315.2" y1="3698.5" x2="2362.2" y2="3745.5" stroke-width="7" stroke-linecap="round"/>
<g class="t" transform="translate(2320.60,3598.00) rotate(-90) scale(0.8450)" stroke-width="9.70"><path transform="translate(0.00,0)" d="M5.8,-67 C5.8,-83.5 17.5,-95.15 32,-95.15 C47,-95.15 59,-83.5 59,-68 C59,-60 56.5,-53.5 51,-47.5 L6.5,-4.85 H66.4"/><path transform="translate(83.82,0)" d="M0,-36.3 H36"/><path transform="translate(137.23,0)" d="M91.75,-74.5 A46.9,46.9 0 1 0 97.8,-41 H63"/><path transform="translate(261.15,0)" d="M20.8,0 V-100"/><path transform="translate(261.15,0)" d="M5,-100 H25.65 V-90.3 H0 Z" style="fill:#000;stroke:none"/><path transform="translate(311.27,0)" d="M4,13 L44.7,-100"/><path transform="translate(377.39,0)" d="M5.8,-67 C5.8,-83.5 17.5,-95.15 32,-95.15 C47,-95.15 59,-83.5 59,-68 C59,-60 56.5,-53.5 51,-47.5 L6.5,-4.85 H66.4"/></g>
<line x1="3298.5" y1="3298.5" x2="3298.5" y2="3750.0" stroke-width="7" stroke-linecap="round"/>
<line x1="2645.0" y1="3582.5" x2="2734.0" y2="3582.5" stroke-width="7" stroke-linecap="round"/>
<line x1="2770.0" y1="3582.5" x2="2853.0" y2="3582.5" stroke-width="7" stroke-linecap="round"/>
<line x1="2887.5" y1="3582.5" x2="2972.0" y2="3582.5" stroke-width="7" stroke-linecap="round"/>
<line x1="3006.0" y1="3582.5" x2="3090.6" y2="3582.5" stroke-width="7" stroke-linecap="round"/>
<line x1="3126.0" y1="3582.5" x2="3215.6" y2="3582.5" stroke-width="7" stroke-linecap="round"/>
<line x1="3256.0" y1="3582.5" x2="3345.0" y2="3582.5" stroke-width="7" stroke-linecap="round"/>
<line x1="2645.0" y1="3750.0" x2="2734.0" y2="3750.0" stroke-width="7" stroke-linecap="round"/>
<line x1="2770.0" y1="3750.0" x2="2853.0" y2="3750.0" stroke-width="7" stroke-linecap="round"/>
<line x1="2887.5" y1="3750.0" x2="2972.0" y2="3750.0" stroke-width="7" stroke-linecap="round"/>
<line x1="3006.0" y1="3750.0" x2="3090.6" y2="3750.0" stroke-width="7" stroke-linecap="round"/>
<line x1="3126.0" y1="3750.0" x2="3215.6" y2="3750.0" stroke-width="7" stroke-linecap="round"/>
<line x1="3256.0" y1="3750.0" x2="3345.0" y2="3750.0" stroke-width="7" stroke-linecap="round"/>
<line x1="3275.0" y1="3559.0" x2="3322.0" y2="3606.0" stroke-width="7" stroke-linecap="round"/>
<line x1="3275.0" y1="3726.5" x2="3322.0" y2="3773.5" stroke-width="7" stroke-linecap="round"/>
<g class="t" transform="translate(3283.20,3538.40) rotate(-90) scale(0.8790)" stroke-width="9.70"><path transform="translate(0.00,0)" d="M5.8,-67 C5.8,-83.5 17.5,-95.15 32,-95.15 C47,-95.15 59,-83.5 59,-68 C59,-60 56.5,-53.5 51,-47.5 L6.5,-4.85 H66.4"/><path transform="translate(77.64,0)" d="M0,-36.3 H36"/><path transform="translate(124.87,0)" d="M5.00,-50.00 A46.80,45.50 0 1 1 98.60,-50.00 A46.80,45.50 0 1 1 5.00,-50.00 Z M9,5.4 L96.3,-99.2"/><path transform="translate(239.71,0)" d="M41,-98 L8.4,-42.3 M4.80,-29.50 A24.70,24.70 0 1 1 54.20,-29.50 A24.70,24.70 0 1 1 4.80,-29.50 Z"/><path transform="translate(309.94,0)" d="M4.85,-50.00 A27.95,45.15 0 1 1 60.75,-50.00 A27.95,45.15 0 1 1 4.85,-50.00 Z"/></g>
<line x1="3134.0" y1="1456.0" x2="3134.0" y2="1777.5" stroke-width="7" stroke-linecap="round"/>
<line x1="2637.5" y1="1610.0" x2="2705.0" y2="1610.0" stroke-width="7" stroke-linecap="round"/>
<line x1="2740.0" y1="1610.0" x2="2822.0" y2="1610.0" stroke-width="7" stroke-linecap="round"/>
<line x1="2860.0" y1="1610.0" x2="2942.0" y2="1610.0" stroke-width="7" stroke-linecap="round"/>
<line x1="2978.0" y1="1610.0" x2="3043.0" y2="1610.0" stroke-width="7" stroke-linecap="round"/>
<line x1="3085.0" y1="1610.0" x2="3180.0" y2="1610.0" stroke-width="7" stroke-linecap="round"/>
<line x1="2642.5" y1="1777.5" x2="2710.0" y2="1777.5" stroke-width="7" stroke-linecap="round"/>
<line x1="2745.0" y1="1777.5" x2="2826.0" y2="1777.5" stroke-width="7" stroke-linecap="round"/>
<line x1="2862.0" y1="1777.5" x2="2946.0" y2="1777.5" stroke-width="7" stroke-linecap="round"/>
<line x1="2980.0" y1="1777.5" x2="3048.0" y2="1777.5" stroke-width="7" stroke-linecap="round"/>
<line x1="3090.0" y1="1777.5" x2="3180.0" y2="1777.5" stroke-width="7" stroke-linecap="round"/>
<line x1="3110.5" y1="1586.5" x2="3157.5" y2="1633.5" stroke-width="7" stroke-linecap="round"/>
<line x1="3110.5" y1="1754.0" x2="3157.5" y2="1801.0" stroke-width="7" stroke-linecap="round"/>
<g class="t" transform="translate(3120.00,1587.50) rotate(-90) scale(0.8800)" stroke-width="9.70"><path transform="translate(0.00,0)" d="M5.00,-50.00 A46.80,45.50 0 1 1 98.60,-50.00 A46.80,45.50 0 1 1 5.00,-50.00 Z M9,5.4 L96.3,-99.2"/><path transform="translate(117.34,0)" d="M41,-98 L8.4,-42.3 M4.80,-29.50 A24.70,24.70 0 1 1 54.20,-29.50 A24.70,24.70 0 1 1 4.80,-29.50 Z"/><path transform="translate(190.08,0)" d="M4.85,-50.00 A27.95,45.15 0 1 1 60.75,-50.00 A27.95,45.15 0 1 1 4.85,-50.00 Z"/></g>
<line x1="4298.5" y1="791.0" x2="4298.5" y2="1107.5" stroke-width="7" stroke-linecap="round"/>
<line x1="3695.0" y1="791.0" x2="3760.0" y2="791.0" stroke-width="7" stroke-linecap="round"/>
<line x1="3800.0" y1="791.0" x2="3882.0" y2="791.0" stroke-width="7" stroke-linecap="round"/>
<line x1="3918.0" y1="791.0" x2="4000.0" y2="791.0" stroke-width="7" stroke-linecap="round"/>
<line x1="4038.0" y1="791.0" x2="4120.0" y2="791.0" stroke-width="7" stroke-linecap="round"/>
<line x1="4155.0" y1="791.0" x2="4240.0" y2="791.0" stroke-width="7" stroke-linecap="round"/>
<line x1="4253.0" y1="791.0" x2="4345.0" y2="791.0" stroke-width="7" stroke-linecap="round"/>
<line x1="3977.5" y1="1107.5" x2="4062.0" y2="1107.5" stroke-width="7" stroke-linecap="round"/>
<line x1="4110.0" y1="1107.5" x2="4210.0" y2="1107.5" stroke-width="7" stroke-linecap="round"/>
<line x1="4255.0" y1="1107.5" x2="4330.0" y2="1107.5" stroke-width="7" stroke-linecap="round"/>
<line x1="4275.0" y1="767.5" x2="4322.0" y2="814.5" stroke-width="7" stroke-linecap="round"/>
<line x1="4275.0" y1="1084.0" x2="4322.0" y2="1131.0" stroke-width="7" stroke-linecap="round"/>
<g class="t" transform="translate(4290.00,1035.00) rotate(-90) scale(0.8500)" stroke-width="9.70"><path transform="translate(0.00,0)" d="M20.8,0 V-100"/><path transform="translate(0.00,0)" d="M5,-100 H25.65 V-90.3 H0 Z" style="fill:#000;stroke:none"/><path transform="translate(73.47,0)" d="M20.8,0 V-100"/><path transform="translate(73.47,0)" d="M5,-100 H25.65 V-90.3 H0 Z" style="fill:#000;stroke:none"/><path transform="translate(143.94,0)" d="M41,-98 L8.4,-42.3 M4.80,-29.50 A24.70,24.70 0 1 1 54.20,-29.50 A24.70,24.70 0 1 1 4.80,-29.50 Z"/></g>
<line x1="3762.5" y1="1102.5" x2="3843.4" y2="1079.8" stroke-width="7" stroke-linecap="round"/>
<line x1="3878.2" y1="1070.0" x2="3957.3" y2="1047.8" stroke-width="7" stroke-linecap="round"/>
<line x1="3990.0" y1="1038.6" x2="4070.9" y2="1015.8" stroke-width="7" stroke-linecap="round"/>
<line x1="4105.8" y1="1006.0" x2="4192.8" y2="981.5" stroke-width="7" stroke-linecap="round"/>
<path d="M4150,985 A406,406 0 0 1 4135,1270" stroke-width="7" fill="none" />
<line x1="4125.5" y1="971.0" x2="4172.5" y2="1018.0" stroke-width="7" stroke-linecap="round"/>
<line x1="4145.5" y1="1084.5" x2="4192.5" y2="1131.5" stroke-width="7" stroke-linecap="round"/>
<g class="t" transform="translate(4129.00,1280.80) rotate(-90) scale(0.8400)" stroke-width="9.70"><path transform="translate(0.00,0)" d="M20.8,0 V-100"/><path transform="translate(0.00,0)" d="M5,-100 H25.65 V-90.3 H0 Z" style="fill:#000;stroke:none"/><path transform="translate(52.08,0)" d="M60.5,-93.3 H21 L12.05,-52.1 A27.2,27.2 0 1 1 4.79,-23.6"/><path transform="translate(138.17,0)" d="M3.70,-79.00 A19.30,19.30 0 1 1 42.30,-79.00 A19.30,19.30 0 1 1 3.70,-79.00 Z" stroke-width="7.4"/></g>
</svg></body></html>
